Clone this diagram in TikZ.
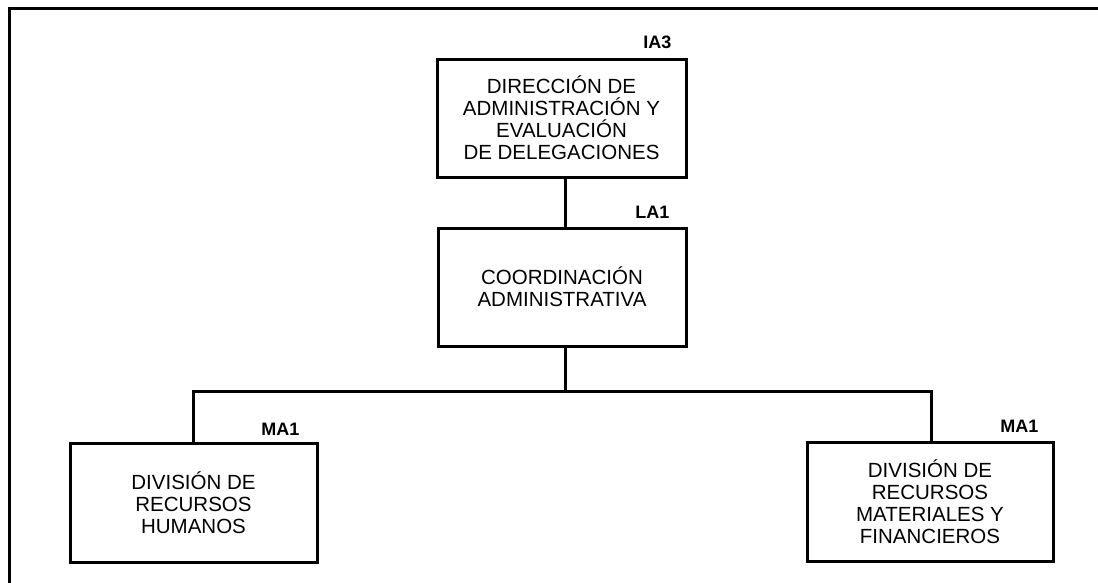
\documentclass[tikz,border=0pt]{standalone}
\usepackage{fontspec}
\setmainfont{Liberation Sans}
\usetikzlibrary{calc}
\tikzset{
  orgbox/.style={draw, line width=3pt, fill=white, inner sep=0pt, align=center,
    font=\fontsize{20.5}{22}\selectfont, minimum width=#1},
  orgbox/.default=248pt,
  codelabel/.style={anchor=base east, inner sep=0pt, font=\fontsize{18}{18}\selectfont\bfseries},
  link/.style={line width=3pt}
}
\begin{document}
\begin{tikzpicture}[x=1pt,y=-1pt]
\useasboundingbox (0,0) rectangle (1098,582);
\draw[link, line cap=rect] (9,584) -- (9,8) -- (1100,8);

\node[orgbox=249pt, minimum height=118pt] (b1) at (561.5,118) {DIRECCIÓN DE\\ADMINISTRACIÓN Y\\EVALUACIÓN\\DE DELEGACIONES};
\node[orgbox=248pt, minimum height=118pt] (b2) at (562,287) {COORDINACIÓN\\ADMINISTRATIVA};
\node[orgbox=247pt, minimum height=119pt] (b3) at (193.5,502.5) {DIVISIÓN DE\\RECURSOS\\HUMANOS};
\node[orgbox=246pt, minimum height=119pt] (b4) at (930,501.5) {DIVISIÓN DE\\RECURSOS\\MATERIALES Y\\FINANCIEROS};

\node[codelabel] (l1) at ($(b1.north east)+(-16,-9)$) {IA3};
\node[codelabel] (l2) at ($(b2.north east)+(-18,-8)$) {LA1};
\node[codelabel] (l3) at ($(b3.north east)+(-19,-6)$) {MA1};
\node[codelabel] (l4) at ($(b4.north east)+(-16,-8)$) {MA1};

\coordinate (j) at (565,391);
\coordinate (jl) at (193,391);
\coordinate (jr) at (931,391);

\draw[link] (b1.south -| j) -- (b2.north -| j);
\draw[link] (b2.south -| j) -- (j);
\draw[link, line join=miter] (b3.north -| jl) -- (jl) -- (jr) -- (b4.north -| jr);
\end{tikzpicture}
\end{document}
